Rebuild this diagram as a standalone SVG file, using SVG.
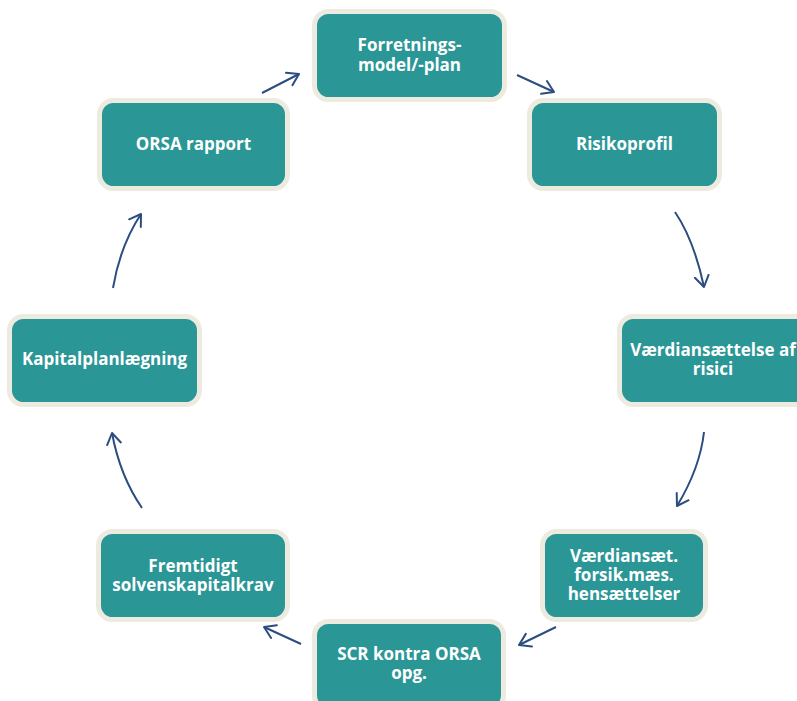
<svg xmlns="http://www.w3.org/2000/svg" width="797" height="701" viewBox="0 0 797 701">
  <style>
    .box { fill: #2A9696; stroke: #EDEAE0; stroke-width: 5; }
    .lbl { fill: #FFFFFF; font-family: "Open Sans", "Liberation Sans", sans-serif; font-weight: bold; font-size: 17px; text-anchor: middle; }
    .arr { fill: none; stroke: #2C4D7F; stroke-width: 2; marker-end: url(#head); }
  </style>
  <defs>
    <marker id="head" markerUnits="userSpaceOnUse" markerWidth="24" markerHeight="24" refX="12" refY="12" orient="auto" viewBox="0 0 24 24">
      <path d="M 1 5 L 12 12 L 1 19" fill="none" stroke="#2C4D7F" stroke-width="2" stroke-linecap="round" stroke-linejoin="round"/>
    </marker>
  </defs>
  <rect width="797" height="701" fill="#FFFFFF"/>

  <g id="connectors">
    <path class="arr" d="M 517 75 L 554 92"/>
    <path class="arr" d="M 675 212 Q 694 240 704 287"/>
    <path class="arr" d="M 704 432 Q 700 468 677 506"/>
    <path class="arr" d="M 556 627 L 519 645"/>
    <path class="arr" d="M 301 644 L 264 627"/>
    <path class="arr" d="M 142 508 Q 120 476 112 433"/>
    <path class="arr" d="M 113 288 Q 120 246 141 214"/>
    <path class="arr" d="M 262 93 L 299 74"/>
  </g>

  <g id="node-forretning">
    <rect class="box" x="314.5" y="11.5" width="190" height="88" rx="14"/>
    <text class="lbl" x="409.5" y="51">Forretnings-</text>
    <text class="lbl" x="409.5" y="71">model/-plan</text>
  </g>
  <g id="node-risikoprofil">
    <rect class="box" x="529.5" y="100.5" width="190" height="88" rx="14"/>
    <text class="lbl" x="624.5" y="150">Risikoprofil</text>
  </g>
  <g id="node-vaerdiansaettelse">
    <rect class="box" x="619.5" y="316.5" width="190" height="88" rx="14"/>
    <text class="lbl" x="713" y="356">Værdiansættelse af</text>
    <text class="lbl" x="713" y="375">risici</text>
  </g>
  <g id="node-hensaettelser">
    <rect class="box" x="542.5" y="531.5" width="163" height="88" rx="14"/>
    <text class="lbl" x="624" y="562">Værdiansæt.</text>
    <text class="lbl" x="624" y="581">forsik.mæs.</text>
    <text class="lbl" x="624" y="600">hensættelser</text>
  </g>
  <g id="node-scr">
    <rect class="box" x="314.5" y="621.5" width="189" height="88" rx="14"/>
    <text class="lbl" x="409" y="660">SCR kontra ORSA</text>
    <text class="lbl" x="409" y="679">opg.</text>
  </g>
  <g id="node-fremtidigt">
    <rect class="box" x="98.5" y="531.5" width="189" height="88" rx="14"/>
    <text class="lbl" x="193" y="572">Fremtidigt</text>
    <text class="lbl" x="193" y="591">solvenskapitalkrav</text>
  </g>
  <g id="node-kapital">
    <rect class="box" x="9.5" y="316.5" width="190" height="88" rx="14"/>
    <text class="lbl" x="104.5" y="365">Kapitalplanlægning</text>
  </g>
  <g id="node-orsa">
    <rect class="box" x="99.5" y="100.5" width="188" height="88" rx="14"/>
    <text class="lbl" x="193.5" y="150">ORSA rapport</text>
  </g>
</svg>
